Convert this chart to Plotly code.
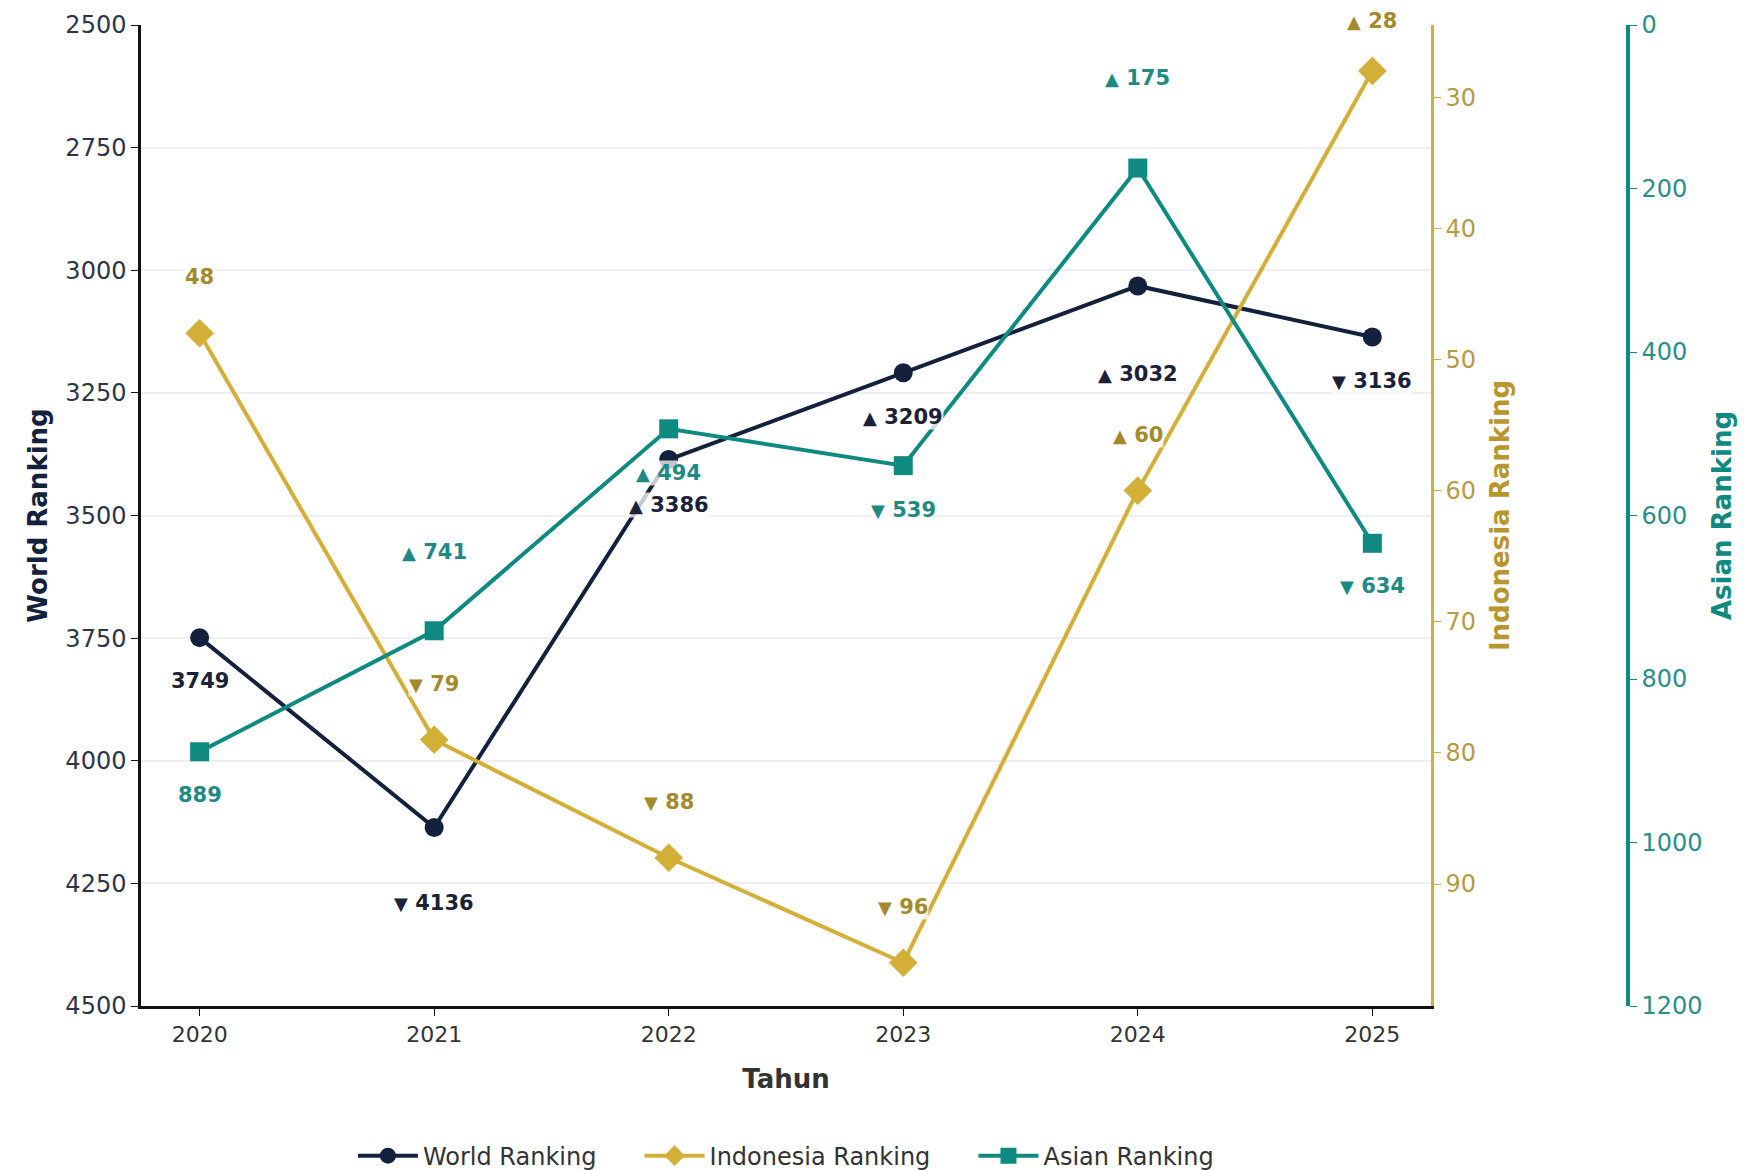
import plotly.graph_objects as go

years = [2020, 2021, 2022, 2023, 2024, 2025]
world_rank = [3749, 4136, 3386, 3209, 3032, 3136]
indo_rank = [48, 79, 88, 96, 60, 28]
asian_rank = [889, 741, 494, 539, 175, 634]

world_ticks = [2500, 2750, 3000, 3250, 3500, 3750, 4000, 4250, 4500]
indo_ticks = [30, 40, 50, 60, 70, 80, 90]
asian_ticks = [0, 200, 400, 600, 800, 1000, 1200]

series_names = ["World Ranking", "Indonesia Ranking", "Asian Ranking"]

# label offsets in px (style only)
world_shift = [-43, -76, -45, -44, -88, -44]
indo_shift = [56, 56, 56, 56, 56, 50]
asian_shift = [-43, 79, -44, -44, 90, -43]

NAVY = "#14213D"
GOLD = "#D4AF37"
TEAL = "#0F8A80"
NAVY_T = "#1B2238"
GOLD_T = "#A38B2C"
TEAL_T = "#1E8A84"
FONT = "DejaVu Sans"
PAD = "\u00a0" * 5

fig = go.Figure()
fig.add_trace(go.Scatter(x=years, y=world_rank, name=series_names[0] + PAD, mode="lines+markers",
                         line=dict(color=NAVY, width=4),
                         marker=dict(symbol="circle", size=19, color=NAVY), yaxis="y"))
fig.add_trace(go.Scatter(x=years, y=indo_rank, name=series_names[1] + PAD, mode="lines+markers",
                         line=dict(color=GOLD, width=4),
                         marker=dict(symbol="diamond", size=22, color=GOLD), yaxis="y2"))
fig.add_trace(go.Scatter(x=years, y=asian_rank, name=series_names[2], mode="lines+markers",
                         line=dict(color=TEAL, width=4),
                         marker=dict(symbol="square", size=19, color=TEAL), yaxis="y3"))


def label(vals, i):
    v = vals[i]
    if i == 0:
        return f"{v}"
    arrow = "▲" if v < vals[i - 1] else "▼"
    return f"<span style='font-size:18px'>{arrow}</span> {v}"


annots = []
for vals, ref, shifts, col in [(world_rank, "y", world_shift, NAVY_T),
                               (indo_rank, "y2", indo_shift, GOLD_T),
                               (asian_rank, "y3", asian_shift, TEAL_T)]:
    for i, yr in enumerate(years):
        annots.append(dict(x=yr, y=vals[i], xref="x", yref=ref, text=label(vals, i),
                           showarrow=False, yshift=shifts[i],
                           font=dict(family=FONT, size=21, color=col, weight="bold"),
                           bgcolor="rgba(255,255,255,0.75)", borderpad=0))

fig.update_layout(
    width=1755, height=1162,
    margin=dict(l=133, r=135, t=17, b=164, autoexpand=False),
    paper_bgcolor="white", plot_bgcolor="white",
    font=dict(family=FONT, size=24, color="#333333"),
    annotations=annots,
    xaxis=dict(domain=[0, 0.8675], range=[2019.75, 2025.25], tickmode="array", tickvals=years,
               automargin=False,
               showgrid=False, zeroline=False, showline=True, linecolor="#111111", linewidth=2.5,
               ticks="outside", ticklen=7, tickcolor="#111111",
               tickfont=dict(size=22, color="#333333"),
               title=dict(text="Tahun", standoff=24,
                          font=dict(size=26, color="#333333", weight="bold"))),
    yaxis=dict(range=[4500, 2500], tickmode="array", tickvals=world_ticks, automargin=False,
               showgrid=True, gridcolor="#efefef", gridwidth=1.5, zeroline=False,
               showline=True, linecolor="#111111", linewidth=2.5,
               ticks="outside", ticklen=7, tickcolor="#111111",
               tickfont=dict(size=24, color="#2E3547"),
               title=dict(text="World Ranking", standoff=11,
                          font=dict(size=26, color=NAVY, weight="bold"))),
    yaxis2=dict(range=[99.3, 24.5], tickmode="array", tickvals=indo_ticks, automargin=False,
                overlaying="y", side="right", anchor="x",
                showgrid=False, zeroline=False, showline=True, linecolor=GOLD, linewidth=2.5,
                ticks="outside", ticklen=7, tickcolor=GOLD,
                tickfont=dict(size=24, color="#B39C45"),
                title=dict(text="Indonesia Ranking", standoff=16,
                           font=dict(size=26, color="#B8962E", weight="bold"))),
    yaxis3=dict(range=[1200, 0], tickmode="array", tickvals=asian_ticks, automargin=False,
                overlaying="y", side="right", anchor="free", position=1.0,
                showgrid=False, zeroline=False, showline=True, linecolor=TEAL, linewidth=3.5,
                ticks="outside", ticklen=7, tickcolor=TEAL,
                tickfont=dict(size=24, color="#2A8F88"),
                title=dict(text="Asian Ranking", standoff=10,
                           font=dict(size=26, color=TEAL, weight="bold"))),
    legend=dict(orientation="h", x=0.4337, xanchor="center", y=-0.153, yanchor="middle",
                font=dict(size=24, color="#333333"), bgcolor="rgba(0,0,0,0)",
                itemwidth=60, tracegroupgap=0),
    showlegend=True,
)

fig.write_html("out.html")
